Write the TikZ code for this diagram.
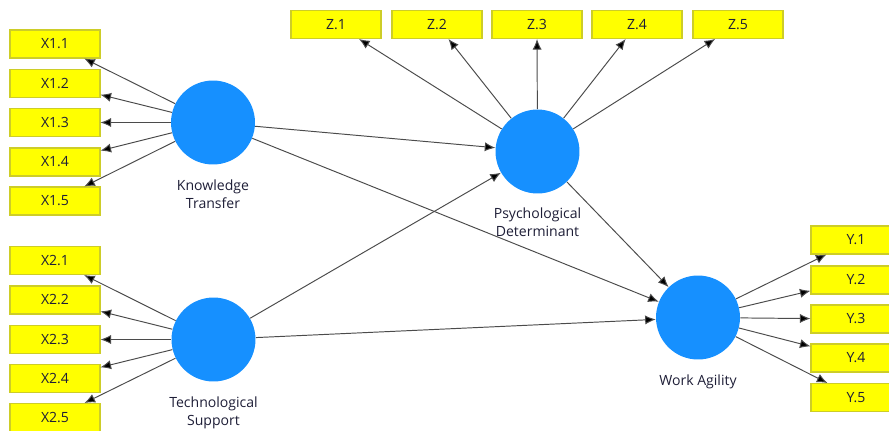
\documentclass[tikz,border=0pt]{standalone}
\usepackage{fontspec}
\setmainfont{Open Sans}
\usetikzlibrary{arrows.meta,positioning}
\definecolor{lvblue}{RGB}{22,144,255}
\definecolor{mvyellow}{RGB}{255,255,0}
\definecolor{mvedge}{RGB}{205,205,40}
\definecolor{linkgray}{RGB}{75,75,75}
\definecolor{txtdark}{RGB}{30,30,55}
\tikzset{
  lv/.style={circle,fill=lvblue,minimum size=1.68cm,inner sep=0pt},
  mv/.style={rectangle,fill=mvyellow,draw=mvedge,line width=0.6pt,
    minimum width=1.8cm,minimum height=0.56cm,inner sep=0pt,
    text=txtdark,font=\fontsize{8}{9.6}\selectfont},
  lvname/.style={align=center,inner sep=0pt,text=txtdark,
    font=\fontsize{8}{10.2}\selectfont},
  link/.style={draw=linkgray,line width=0.55pt,
    -{Latex[length=6pt,width=5.2pt,fill=black]}}
}
\begin{document}
\begin{tikzpicture}[x=0.02cm,y=-0.02cm]
\useasboundingbox (0,0) rectangle (889,430);
% latent variables
\node[lv] (KT) at (213,122.5) {};
\node[lv] (TS) at (213.5,339.5) {};
\node[lv] (PD) at (537.5,151.5) {};
\node[lv] (WA) at (698,317.5) {};
\node[lvname, below=0.3cm of KT] (KTl) {Knowledge\\Transfer};
\node[lvname, below=0.3cm of TS] (TSl) {Technological\\Support};
\node[lvname, below=0.28cm of PD] (PDl) {Psychological\\Determinant};
\node[lvname, below=0.3cm of WA] (WAl) {Work Agility};
% indicators
\foreach \i/\y in {1/44,2/83.5,3/122.5,4/162,5/201}
  \node[mv] (X1\i) at (55,\y) {X1.\i};
\foreach \i/\y in {1/260.5,2/300,3/339.5,4/378.5,5/417.5}
  \node[mv] (X2\i) at (55,\y) {X2.\i};
\foreach \i/\x in {1/336,2/437,3/537,4/637,5/738}
  \node[mv] (Z\i) at (\x,24.5) {Z.\i};
\foreach \i/\y in {1/240,2/280,3/319,4/358,5/397.5}
  \node[mv] (Y\i) at (856,\y) {Y.\i};
% outer model
\foreach \i in {1,...,5} {
  \draw[link] (KT) -- (X1\i);
  \draw[link] (TS) -- (X2\i);
  \draw[link] (PD) -- (Z\i);
  \draw[link] (WA) -- (Y\i);
}
% inner model
\draw[link] (KT) -- (PD);
\draw[link] (KT) -- (WA);
\draw[link] (TS) -- (PD);
\draw[link] (TS) -- (WA);
\draw[link] (PD) -- (WA);
\end{tikzpicture}
\end{document}
